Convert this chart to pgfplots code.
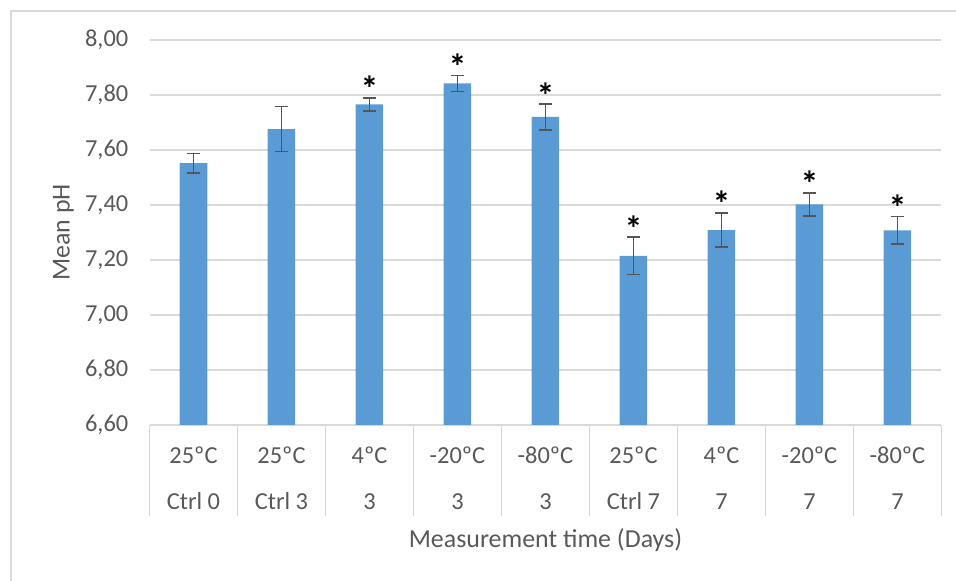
\documentclass[border=0pt]{standalone}
\usepackage{pgfplots}
\pgfplotsset{compat=1.18}
\usepackage{fontspec}
\setmainfont{Carlito}
\definecolor{barblue}{HTML}{5B9BD5}
\definecolor{txtgray}{HTML}{595959}
\definecolor{gridgray}{HTML}{D9D9D9}
\definecolor{errgray}{HTML}{555555}
\begin{document}
\begin{tikzpicture}
\path[use as bounding box] (0,0) rectangle (956bp,581bp);
\draw[gridgray, line width=1.5bp] (11bp,0) -- (11bp,570bp) -- (956bp,570bp);
\begin{axis}[
  at={(149.5bp,156bp)}, anchor=south west,
  scale only axis, width=792bp, height=385bp,
  xmin=-0.5, xmax=8.5, ymin=6.6, ymax=8.0,
  ytick={6.6,6.8,7.0,7.2,7.4,7.6,7.8,8.0},
  ymajorgrids, grid style={gridgray, line width=1.5bp},
  axis line style={draw=none},
  ytick style={draw=none},
  xtick={0,1,2,3,4,5,6,7,8},
  xticklabels={25ºC,25ºC,4ºC,-20ºC,-80ºC,25ºC,4ºC,-20ºC,-80ºC},
  xtick pos=bottom, ytick pos=left,
  major x tick style={draw=none},
  minor xtick={-0.5,0.5,1.5,2.5,3.5,4.5,5.5,6.5,7.5,8.5},
  minor x tick style={gridgray, line width=1.5bp},
  minor tick length=91bp,
  major tick length=0pt,
  tick align=outside,
  tick label style={font=\fontsize{24.5}{29}\selectfont, text=txtgray},
  /pgf/number format/.cd, fixed, fixed zerofill, precision=2, use comma, assume math mode=true,
  /pgfplots/.cd,
  yticklabel style={anchor=east, inner sep=0pt, xshift=-21bp},
  xticklabel style={anchor=base, inner sep=0pt, yshift=-38bp},
  extra x ticks={0,1,2,3,4,5,6,7,8},
  extra x tick labels={Ctrl 0,Ctrl 3,3,3,3,Ctrl 7,7,7,7},
  extra x tick style={grid=none, major tick length=0pt, xticklabel style={yshift=-46.5bp}},
  ylabel={Mean pH},
  ylabel style={at={(axis description cs:-0.1086,0.5)}, anchor=center, font=\fontsize{26}{30}\selectfont, text=txtgray},
  xlabel={Measurement time (Days)},
  xlabel style={at={(axis description cs:0.5,-0.3177)}, anchor=base, font=\fontsize{26}{30}\selectfont, text=txtgray},
]
\addplot[ybar, bar width=27.5bp, fill=barblue, draw=none,
  error bars/.cd, y dir=both, y explicit,
  error bar style={errgray, line width=1.6bp},
  error mark options={rotate=90, mark size=6.3bp, line width=1.6bp, errgray}]
  coordinates {
  (0,7.552) +- (0,0.035)
  (1,7.676) +- (0,0.082)
  (2,7.766) +- (0,0.024)
  (3,7.842) +- (0,0.029)
  (4,7.720) +- (0,0.047)
  (5,7.215) +- (0,0.068)
  (6,7.309) +- (0,0.062)
  (7,7.402) +- (0,0.042)
  (8,7.308) +- (0,0.050)
  };
\addplot[draw=none, mark=none, nodes near coords={*},
  every node near coord/.append style={anchor=base, yshift=-4bp, inner sep=0pt,
    font=\fontsize{36}{40}\selectfont\bfseries, text=black}]
  coordinates {(2,7.790) (3,7.871) (4,7.767) (5,7.283) (6,7.371) (7,7.444) (8,7.358)};
\end{axis}
\end{tikzpicture}
\end{document}
